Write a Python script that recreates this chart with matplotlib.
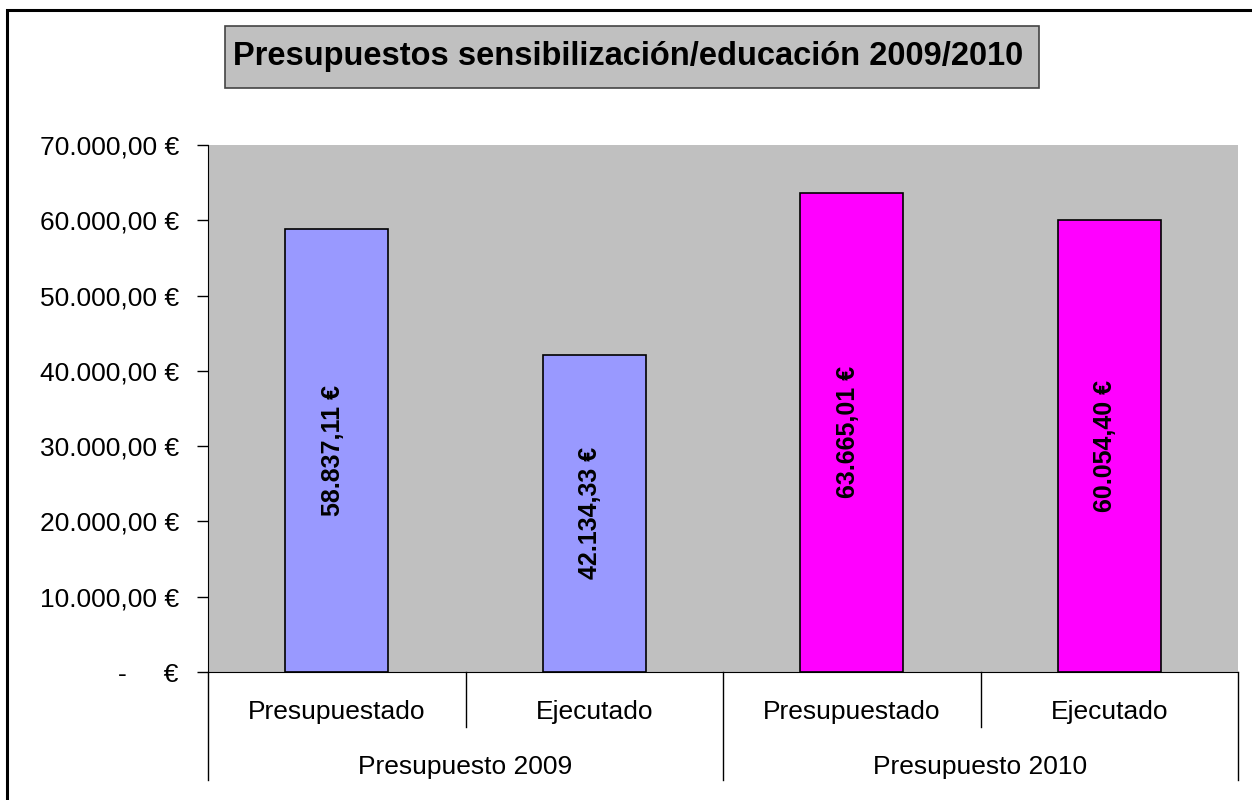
#!/usr/bin/env python3
import matplotlib
matplotlib.use("Agg")
import matplotlib.pyplot as plt
from matplotlib.patches import Rectangle
from matplotlib.ticker import FuncFormatter, MultipleLocator

plt.rcParams["font.family"] = ["Liberation Sans", "DejaVu Sans"]

# Data
TITLE = "Presupuestos sensibilización/educación 2009/2010"
SUB_LABELS = ["Presupuestado", "Ejecutado", "Presupuestado", "Ejecutado"]
GROUP_LABELS = ["Presupuesto 2009", "Presupuesto 2010"]
VALUES = [58837.11, 42134.33, 63665.01, 60054.40]
VALUE_LABELS = ["58.837,11 €", "42.134,33 €", "63.665,01 €", "60.054,40 €"]
COLORS = ["#9999FF", "#9999FF", "#FF00FF", "#FF00FF"]


def euro_fmt(v, pos):
    if abs(v) < 1e-9:
        return "-     €"
    s = f"{v:,.2f}".replace(",", "X").replace(".", ",").replace("X", ".")
    return s + " €"


def main():
    fig = plt.figure(figsize=(12.52, 8), dpi=100)

    # outer chart frame
    fig.patches.append(Rectangle((7 / 1252, -0.1), 1.2, 1.1 - 10 / 800,
                                 transform=fig.transFigure, fill=False,
                                 edgecolor="black", linewidth=2.2, zorder=0))

    # title box
    fig.patches.append(Rectangle((225 / 1252, 1 - 88 / 800), 814 / 1252, 62 / 800,
                                 transform=fig.transFigure, facecolor="#C0C0C0",
                                 edgecolor="#444444", linewidth=1.2))
    fig.text(628 / 1252, 1 - 57 / 800, TITLE, ha="center", va="center",
             fontsize=23.5, fontweight="bold")

    ax = fig.add_axes([208 / 1252, 1 - 672 / 800, 1030 / 1252, 527 / 800])
    ax.set_facecolor("#C0C0C0")

    x = list(range(len(VALUES)))
    ax.bar(x, VALUES, width=0.4, color=COLORS, edgecolor="black", linewidth=1.2, zorder=2)
    for xi, v, lab in zip(x, VALUES, VALUE_LABELS):
        ax.text(xi - 0.015, v / 2, lab, rotation=90, ha="center", va="center",
                fontsize=18, fontweight="bold", zorder=3)

    ax.set_xlim(-0.5, len(VALUES) - 0.5)
    ax.set_ylim(0, 70000)
    ax.yaxis.set_major_locator(MultipleLocator(10000))
    ax.yaxis.set_major_formatter(FuncFormatter(euro_fmt))
    ax.tick_params(axis="y", direction="out", length=8, width=1, labelsize=19, pad=13)
    ax.set_xticks([])

    for side in ["top", "right"]:
        ax.spines[side].set_visible(False)
    ax.spines["left"].set_color("black")
    ax.spines["bottom"].set_color("black")

    trans = ax.get_xaxis_transform()
    # category separators
    for b in [-0.5, 1.5, 3.5]:
        ax.plot([b, b], [0, -0.205], transform=trans, color="black", lw=1, clip_on=False)
    for b in [0.5, 2.5]:
        ax.plot([b, b], [0, -0.104], transform=trans, color="black", lw=1, clip_on=False)

    for xi, lab in zip(x, SUB_LABELS):
        ax.text(xi, -0.076, lab, transform=trans, ha="center", va="center", fontsize=19)
    for gi, lab in enumerate(GROUP_LABELS):
        ax.text(gi * 2 + 0.5, -0.18, lab, transform=trans, ha="center", va="center",
                fontsize=19)

    fig.savefig("out.png", dpi=100)
    plt.close(fig)


if __name__ == "__main__":
    main()
